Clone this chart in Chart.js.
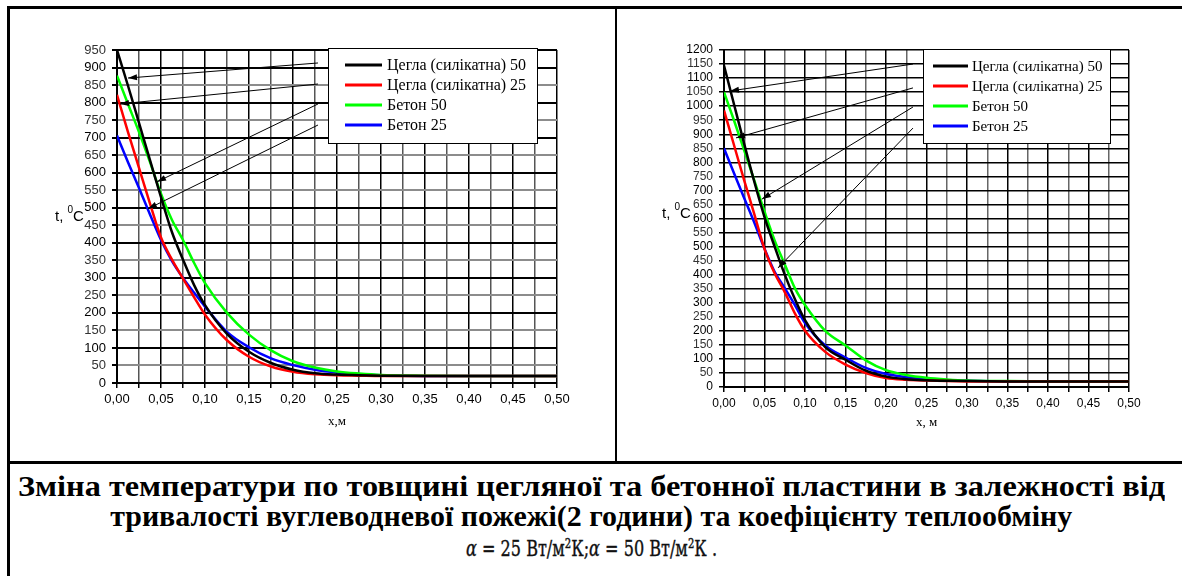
<!DOCTYPE html>
<html><head><meta charset="utf-8">
<script src="https://cdn.jsdelivr.net/npm/chart.js@4.4.0/dist/chart.umd.min.js"></script>
<style>
html,body{margin:0;padding:0;background:#fff;width:1182px;height:576px;overflow:hidden;}
.bd{position:absolute;background:#000;}
#c1{position:absolute;left:10px;top:10px;}
#c2{position:absolute;left:620px;top:10px;}
.cap{position:absolute;left:0;width:1182px;text-align:center;font-family:"Liberation Serif","Times New Roman",serif;font-weight:bold;font-size:30px;line-height:30px;white-space:nowrap;}
.cap span{display:inline-block;transform-origin:center center;}
.math{font-family:"DejaVu Serif",serif;font-weight:normal;font-size:23px;color:#111;-webkit-text-stroke:0.4px #111;}
</style></head>
<body>
<div class="bd" style="left:7px;top:6px;width:1175px;height:3px"></div>
<div class="bd" style="left:7px;top:6px;width:3px;height:570px"></div>
<div class="bd" style="left:615px;top:6px;width:2px;height:457px"></div>
<div class="bd" style="left:7px;top:461px;width:1175px;height:3px"></div>
<canvas id="c1" width="600" height="445"></canvas>
<canvas id="c2" width="558" height="445"></canvas>
<div class="cap" style="top:471px"><span data-w="1147">Зміна температури по товщині цегляної та бетонної пластини в залежності від</span></div>
<div class="cap" style="top:501px"><span data-w="962">тривалості вуглеводневої пожежі(2 години) та коефіцієнту теплообміну</span></div>
<div class="cap" style="top:531px"><span class="math" data-w="251"><i>α</i> = 25 Вт/м²К;<i>α</i> = 50 Вт/м²К .</span></div>
<script>
// ---- data ----
const xPositions = [0,0.0125,0.025,0.0375,0.05,0.0625,0.075,0.0875,0.1,0.125,0.15,0.175,0.2,0.225,0.25,0.275,0.3,0.35,0.4,0.45,0.5];
const seriesNames = ['Цегла (силікатна) 50','Цегла (силікатна) 25','Бетон 50','Бетон 25'];
const seriesColors = ['#000000','#ff0000','#00ff00','#0000ff'];

const leftBrick50     = [950,848,742,636,530,430,352,280,222,140,89,57,38,28,24,22,21,20,20,20,20];
const leftBrick25     = [822,716,614,512,415,352,298,245,195,122,75,47,32,25,22,21,20,20,20,20,20];
const leftConcrete50  = [877,796,716,630,540,465,408,343,285,200,138,93,62,44,33,27,23,21,20,20,20];
const leftConcrete25  = [706,630,556,481,408,348,300,258,218,146,102,70,51,38,30,25,22,20,20,20,20];

const rightBrick50    = [1145,1005,865,730,605,500,400,313,238,142,97,58,37,28,24,22,21,20,20,20,20];
const rightBrick25    = [985,860,735,615,492,405,338,262,200,125,80,50,32,26,23,21,20,20,20,20,20];
const rightConcrete50 = [1050,948,842,735,625,522,437,352,292,200,148,95,60,43,33,27,23,21,20,20,20];
const rightConcrete25 = [850,760,672,585,492,410,352,292,228,148,105,68,46,35,28,24,22,20,20,20,20];

const leftYMax = 950, rightYMax = 1200;
const xTitleLeft = 'x,м', xTitleRight = 'x, м';
// arrow annotations in data units: [fromX, fromY, toX, toY]
const leftArrows  = [[0.2284,913,0.0125,870],[0.2284,853,0.0034,796],[0.2284,796,0.0455,574],[0.2284,736,0.0352,497]];
const rightArrows = [[0.2333,1150,0.0074,1054],[0.2333,1065,0.0148,887],[0.2333,997,0.0469,669],[0.2333,922,0.0667,424]];

function fmtX(v){ const m = Math.round(v*1000); if (m % 50 !== 0) return ''; return (m/1000).toFixed(2).replace('.', ','); }

const annotate = {
  id: 'annotate',
  afterDraw(chart, args, o) {
    const ctx = chart.ctx, xs = chart.scales.x, ys = chart.scales.y, ca = chart.chartArea;
    ctx.save();
    ctx.strokeStyle = '#000'; ctx.fillStyle = '#000'; ctx.lineWidth = 1;
    o.arrows.forEach(a => {
      const x0 = xs.getPixelForValue(a[0]), y0 = ys.getPixelForValue(a[1]);
      const x1 = xs.getPixelForValue(a[2]), y1 = ys.getPixelForValue(a[3]);
      ctx.beginPath(); ctx.moveTo(x0, y0); ctx.lineTo(x1, y1); ctx.stroke();
      const an = Math.atan2(y1 - y0, x1 - x0), L = 9, W = 3;
      ctx.beginPath(); ctx.moveTo(x1, y1);
      ctx.lineTo(x1 - L*Math.cos(an) + W*Math.sin(an), y1 - L*Math.sin(an) - W*Math.cos(an));
      ctx.lineTo(x1 - L*Math.cos(an) - W*Math.sin(an), y1 - L*Math.sin(an) + W*Math.cos(an));
      ctx.closePath(); ctx.fill();
    });
    const lg = o.legend;
    const bx = ca.left + lg.dx, by = ca.top + lg.dy;
    ctx.fillStyle = '#fff'; ctx.fillRect(bx, by, lg.w, lg.h);
    ctx.strokeStyle = '#000'; ctx.lineWidth = 1;
    ctx.strokeRect(bx + 0.5, by + 0.5, lg.w, lg.h);
    ctx.font = lg.font; ctx.textBaseline = 'middle'; ctx.textAlign = 'left';
    chart.data.datasets.forEach((ds, i) => {
      const yy = by + 17 + i*20;
      ctx.strokeStyle = ds.borderColor; ctx.lineWidth = 3;
      ctx.beginPath(); ctx.moveTo(bx + lg.sx, yy); ctx.lineTo(bx + lg.sx + lg.sl, yy); ctx.stroke();
      ctx.fillStyle = '#000'; ctx.fillText(ds.label, bx + lg.tx, yy + 1);
    });
    ctx.fillStyle = '#000'; ctx.textBaseline = 'alphabetic';
    let tx = ca.left + o.yTitle.dx, ty = ca.top + o.yTitle.dy;
    ctx.font = '15px "Liberation Sans"';
    ctx.fillText('t, ', tx, ty); tx += ctx.measureText('t, ').width;
    ctx.font = '10px "Liberation Sans"';
    ctx.fillText('0', tx, ty - 8); tx += ctx.measureText('0').width;
    ctx.font = '15px "Liberation Sans"';
    ctx.fillText('C', tx, ty);
    ctx.font = '13px "Liberation Serif"'; ctx.textAlign = 'center';
    ctx.fillText(o.xTitle, (ca.left + ca.right)/2, ca.bottom + o.xTitleDy);
    ctx.restore();
  }
};

function makeChart(id, yMax, series, arrows, cfg) {
  const datasets = series.map((s, i) => ({
    label: seriesNames[i],
    data: xPositions.map((x, k) => ({x: x, y: s[k]})),
    borderColor: seriesColors[i], backgroundColor: seriesColors[i],
    borderWidth: 2.5, pointRadius: 0, cubicInterpolationMode: 'monotone', fill: false
  }));
  return new Chart(document.getElementById(id), {
    type: 'line',
    data: { datasets: datasets },
    options: {
      responsive: false, animation: false, events: [],
      layout: { padding: { left: 0, top: 40, right: cfg.padRight, bottom: 0 } },
      plugins: { legend: { display: false }, tooltip: { enabled: false }, title: { display: false },
        annotate: { arrows: arrows, legend: cfg.legend, yTitle: cfg.yTitle, xTitle: cfg.xTitle, xTitleDy: cfg.xTitleDy } },
      scales: {
        x: {
          type: 'linear', min: 0, max: 0.5,
          afterFit: s => { s.height = cfg.xHeight; },
          ticks: { stepSize: 0.025, autoSkip: false, maxRotation: 0, padding: 4, color: '#000',
                   font: { family: 'Liberation Sans', size: cfg.tickSize }, callback: v => fmtX(v) },
          grid: { color: c => (Math.round(c.tick.value*1000) % 50 === 0) ? '#000' : cfg.minorV,
                  lineWidth: 1.5, tickLength: 5, tickColor: '#000' },
          border: { display: true, color: '#000', width: 2 }
        },
        y: {
          min: 0, max: yMax,
          afterFit: s => { s.width = cfg.yWidth; },
          ticks: { stepSize: 50, autoSkip: false, padding: 6, color: c => (c.tick.value % 100 === 0 ? '#000' : '#333'),
                   font: { family: 'Liberation Sans', size: cfg.tickSize }, callback: v => String(v) },
          grid: { color: c => (c.tick.value % 100 === 0 || c.tick.value === yMax) ? '#000' : cfg.minorH,
                  lineWidth: cfg.hWidth, tickLength: 5, tickColor: '#000' },
          border: { display: true, color: '#000', width: 2 }
        }
      }
    },
    plugins: [annotate]
  });
}

makeChart('c1', leftYMax, [leftBrick50, leftBrick25, leftConcrete50, leftConcrete25], leftArrows, {
  padRight: 53, xHeight: 72, yWidth: 107, tickSize: 13, minorV: '#555', minorH: '#8c8c8c', hWidth: 2,
  legend: { dx: 211, dy: -2, w: 209, h: 95, sx: 17, sl: 37, tx: 59, font: '16px "Liberation Serif"' },
  yTitle: { dx: -62, dy: 171 }, xTitle: xTitleLeft, xTitleDy: 42
});
makeChart('c2', rightYMax, [rightBrick50, rightBrick25, rightConcrete50, rightConcrete25], rightArrows, {
  padRight: 49, xHeight: 68, yWidth: 104, tickSize: 12, minorV: '#666', minorH: '#000', hWidth: 1.5,
  legend: { dx: 199, dy: -1, w: 187, h: 94, sx: 10, sl: 35, tx: 49, font: '15px "Liberation Serif"' },
  yTitle: { dx: -62, dy: 168 }, xTitle: xTitleRight, xTitleDy: 39
});

document.querySelectorAll('.cap span').forEach(el => {
  const target = +el.getAttribute('data-w');
  const w = el.getBoundingClientRect().width;
  if (w > 0) el.style.transform = 'scaleX(' + (target / w) + ')';
});
</script>
</body></html>
